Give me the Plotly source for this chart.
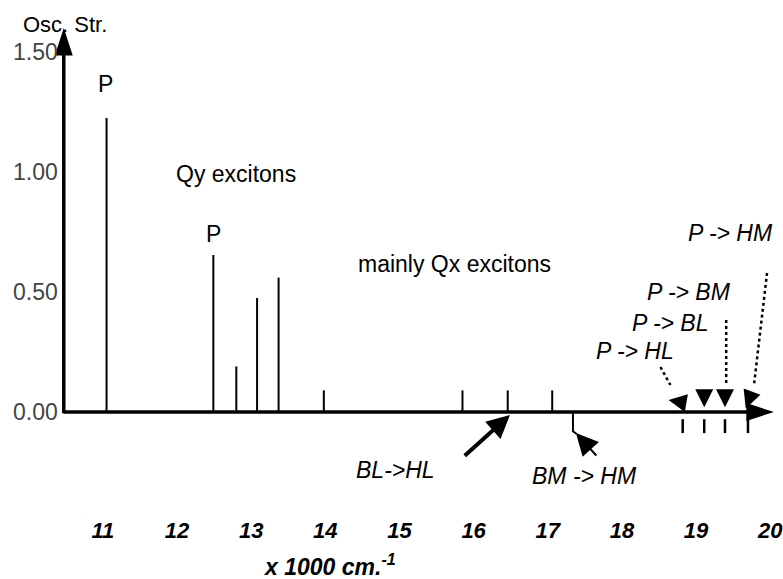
import plotly.graph_objects as go

# ---------------- data ----------------
wavenumber = [11.05, 12.49, 12.80, 13.08, 13.37, 13.98, 15.85, 16.46, 17.06]   # x 1000 cm-1
osc_strength = [1.225, 0.654, 0.19, 0.475, 0.56, 0.09, 0.09, 0.09, 0.09]
bm_hm_x = 17.34          # BM -> HM transition (drawn below axis)
bm_hm_depth = -0.08
ct_x = [18.82, 19.11, 19.39, 19.70]          # charge-transfer states
ct_depth = [-0.03, -0.088]
x_tick_vals = [11, 12, 13, 14, 15, 16, 17, 18, 19, 20]
x_tick_text = ["11", "12", "13", "14", "15", "16", "17", "18", "19", "20"]
y_tick_vals = [0.0, 0.5, 1.0, 1.5]
y_tick_text = ["0.00", "0.50", "1.00", "1.50"]

# ---------------- geometry ----------------
W, H = 783, 579
PB = 515                       # bottom of plot area (px)
X_RANGE = [9.613, 20.132]
Y_RANGE = [-0.4292, 1.7167]
X0 = 10.473                    # position of the drawn y axis
X_END = 20.05
Y_END = 1.60
FONT = "Liberation Sans"


def xv(px):
    return X_RANGE[0] + px / W * (X_RANGE[1] - X_RANGE[0])


def yv(py):
    return Y_RANGE[1] - py / PB * (Y_RANGE[1] - Y_RANGE[0])


def pap(px, py):
    return px / W, 1 - py / PB


fig = go.Figure()

# stick spectrum
bx, by = [], []
for x, s in zip(wavenumber, osc_strength):
    bx += [x, x, None]
    by += [0, s, None]
fig.add_trace(go.Scatter(x=bx, y=by, mode="lines",
                         line=dict(color="black", width=2), hoverinfo="skip"))

# charge-transfer ticks below axis
cx, cy = [], []
for x in ct_x:
    cx += [x, x, None]
    cy += [ct_depth[0], ct_depth[1], None]
fig.add_trace(go.Scatter(x=cx, y=cy, mode="lines",
                         line=dict(color="black", width=2.5), hoverinfo="skip"))

# BM -> HM stick below axis with small hook
fig.add_trace(go.Scatter(x=[bm_hm_x, bm_hm_x, bm_hm_x + 0.05],
                         y=[0, bm_hm_depth, bm_hm_depth - 0.012], mode="lines",
                         line=dict(color="black", width=2), hoverinfo="skip"))

# axes
fig.add_trace(go.Scatter(x=[X0, X0], y=[-0.005, Y_END - 0.08], mode="lines",
                         line=dict(color="black", width=3.5), hoverinfo="skip"))
fig.add_trace(go.Scatter(x=[X0, X_END - 0.2], y=[0, 0], mode="lines",
                         line=dict(color="black", width=3.5), hoverinfo="skip"))
fig.add_trace(go.Scatter(x=[X0, X_END], y=[Y_END, 0], mode="markers",
                         marker=dict(symbol="arrow", size=29, angle=[0, 90],
                                     color="black"),
                         cliponaxis=False, hoverinfo="skip"))

# dotted leader lines
leaders = [((663, 367), (673, 385)), ((729, 320), (729, 386)), ((770, 273), (757, 384))]
lx, ly = [], []
for (p0, p1) in leaders:
    lx += [xv(p0[0]), xv(p1[0]), None]
    ly += [yv(p0[1]), yv(p1[1]), None]
fig.add_trace(go.Scatter(x=lx, y=ly, mode="lines",
                         line=dict(color="black", width=2.5, dash="dot"),
                         hoverinfo="skip"))

annotations = []


def label(text, px, py, size=23, italic=False, bold=False, xanchor="center"):
    x, y = pap(px, py)
    annotations.append(dict(text=text, x=x, y=y, xref="paper", yref="paper",
                            xanchor=xanchor, yanchor="middle", showarrow=False,
                            font=dict(family=FONT, size=size, color="black",
                                      style="italic" if italic else "normal",
                                      weight="bold" if bold else "normal")))


def arrow(x, y, ax, ay, width, size, axref="pixel"):
    d = dict(x=x, y=y, ax=ax, ay=ay, xref="x", yref="y", text="",
             showarrow=True, arrowhead=2, arrowwidth=width, arrowsize=size,
             arrowcolor="black")
    if axref != "pixel":
        d.update(axref="x", ayref="y")
    annotations.append(d)


label("Osc. Str.", 65, 25, size=22)
label("P", 106, 84, size=23)
label("Qy excitons", 237, 174, size=23)
label("P", 214, 234, size=23)
label("mainly Qx excitons", 456, 264, size=23)
label("BL->HL", 397, 470, size=23, italic=True)
label("BM -> HM", 587, 476, size=23, italic=True)
label("P -> HL", 637, 351, size=23, italic=True)
label("P -> BL", 673, 323, size=23, italic=True)
label("P -> BM", 692, 292, size=23, italic=True)
label("P -> HM", 733, 233, size=23, italic=True)
label("x 1000 cm.<sup>-1</sup>", 262, 565, size=23, italic=True, bold=True, xanchor="left")

# arrows pointing at BL->HL and BM->HM
arrow(wavenumber[7] + 0.03, -0.0125, xv(465), yv(457), 4, 1.15, axref="x")
arrow(bm_hm_x + 0.04, -0.088, xv(600), yv(457), 2, 2.2, axref="x")

# arrowheads marking the CT states
arrow(ct_x[0] - 0.19, 0.05, 17, 3, 1.5, 2.4)
arrow(ct_x[1], 0.02, 0, -17, 1.5, 2.4)
arrow(ct_x[2], 0.02, 0, -17, 1.5, 2.4)
arrow(ct_x[3] - 0.03, 0.015, 6, -16, 1.5, 2.4)

fig.update_layout(
    width=W, height=H,
    margin=dict(l=0, r=0, t=0, b=H - PB),
    plot_bgcolor="white", paper_bgcolor="white",
    showlegend=False,
    font=dict(family=FONT, color="black"),
    annotations=annotations,
    xaxis=dict(range=X_RANGE, tickvals=x_tick_vals, ticktext=x_tick_text,
               showgrid=False, zeroline=False, showline=False, ticks="",
               ticklabeloverflow="allow",
               tickfont=dict(family=FONT, size=22, style="italic", weight="bold"),
               fixedrange=True),
    yaxis=dict(range=Y_RANGE, tickvals=y_tick_vals, ticktext=y_tick_text,
               showgrid=False, zeroline=False, showline=False, ticks="",
               ticklabelposition="inside", ticklabelstandoff=10,
               tickfont=dict(family=FONT, size=23),
               fixedrange=True),
)

fig.write_html("out.html")
